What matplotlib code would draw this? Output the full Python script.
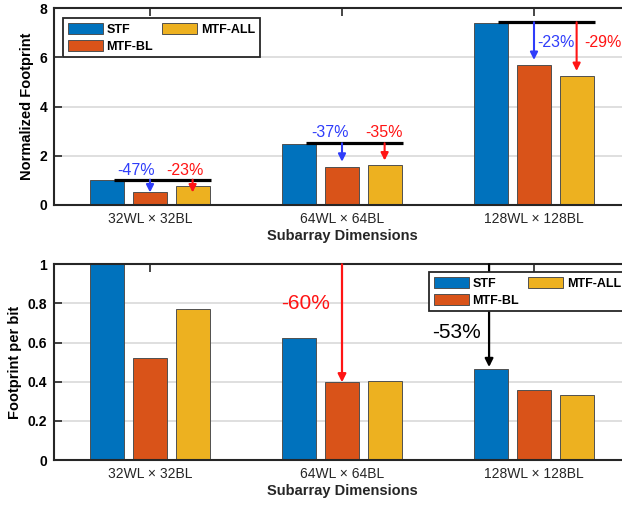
import numpy as np
import matplotlib
matplotlib.use("Agg")
import matplotlib.pyplot as plt

plt.rcParams['font.family'] = ['Liberation Sans', 'DejaVu Sans']

# ---- data ----
categories = ['32WL \u00d7 32BL', '64WL \u00d7 64BL', '128WL \u00d7 128BL']
series = ['STF', 'MTF-BL', 'MTF-ALL']

footprint_stf = [1.00, 2.48, 7.40]
footprint_bl = [0.53, 1.56, 5.70]
footprint_all = [0.77, 1.61, 5.25]

per_bit_stf = [1.00, 0.625, 0.467]
per_bit_bl = [0.523, 0.397, 0.358]
per_bit_all = [0.772, 0.402, 0.330]

# ---- style ----
colors = ['#0072BD', '#D95319', '#EDB120']
blue_note = '#2F3DFA'
red_note = '#FF1414'
spine_col = '#262626'
bar_w = 0.178
offsets = [-0.222, 0.0, 0.222]
x = np.arange(1, len(categories) + 1)

fig = plt.figure(figsize=(6.22, 5.12), dpi=100)
W, H = 622, 512
ax1 = fig.add_axes([54 / W, 1 - 205 / H, 576 / W, 196.7 / H])
ax2 = fig.add_axes([54 / W, 1 - 460 / H, 576 / W, 195.7 / H])


def style_axes(ax, ylim, yticks, yticklabels, ylabel):
    ax.set_axisbelow(True)
    ax.set_xlim(0.5, 3.5)
    ax.set_ylim(*ylim)
    ax.set_yticks(yticks)
    ax.set_yticklabels(yticklabels, fontsize=10, fontweight='bold')
    ax.set_xticks(x)
    ax.set_xticklabels(categories, fontsize=10, color=spine_col)
    ax.tick_params(direction='in', top=True, right=True, length=6, width=1.2,
                   color=spine_col, pad=5)
    ax.yaxis.grid(True, color='#DCDCDC', lw=1.3)
    for s in ax.spines.values():
        s.set_linewidth(1.5)
        s.set_color(spine_col)
    ax.set_ylabel(ylabel, fontsize=10.5, fontweight='bold', labelpad=4)
    ax.set_xlabel('Subarray Dimensions', fontsize=10.5, fontweight='bold',
                  labelpad=2, color=spine_col)


def draw_bars(ax, groups):
    handles = []
    for vals, off, col, name in zip(groups, offsets, colors, series):
        h = ax.bar(x + off, vals, width=bar_w, color=col, edgecolor='#505050',
                   linewidth=0.7, label=name, zorder=2)
        handles.append(h)
    return handles


def add_legend(ax, anchor):
    leg = ax.legend(ncol=2, loc='upper left', bbox_to_anchor=anchor,
                    prop={'weight': 'bold', 'size': 9}, frameon=True,
                    fancybox=False, framealpha=1, edgecolor=spine_col,
                    handlelength=2.8, handleheight=1.04, handletextpad=0.3,
                    columnspacing=0.72, labelspacing=0.32, borderpad=0.38,
                    borderaxespad=0)
    leg.get_frame().set_linewidth(1.3)
    leg.set_zorder(10)
    return leg


def arrow(ax, xx, y_from, y_to, color, scale=11, lw=1.5):
    ax.annotate('', xy=(xx, y_to), xytext=(xx, y_from),
                arrowprops=dict(arrowstyle='-|>', color=color, lw=lw,
                                mutation_scale=scale, shrinkA=0, shrinkB=0),
                zorder=6)


# ---- top panel: normalized footprint ----
style_axes(ax1, (0, 8), [0, 2, 4, 6, 8], ['0', '2', '4', '6', '8'],
           'Normalized Footprint')
draw_bars(ax1, [footprint_stf, footprint_bl, footprint_all])
add_legend(ax1, (0.0156, 0.951))

# reduction labels: (x, y, ha) for MTF-BL then MTF-ALL in each group
top_label_pos = [
    [(0.927, 1.42, 'center'), (1.180, 1.42, 'center')],
    [(1.9375, 2.94, 'center'), (2.219, 2.94, 'center')],
    [(3.016, 6.61, 'left'), (3.260, 6.61, 'left')],
]
for i in range(len(categories)):
    base = footprint_stf[i]
    line_y = base + 0.03
    ax1.plot([x[i] - 0.19, x[i] + 0.32], [line_y, line_y], color='black',
             lw=2.3, solid_capstyle='butt', zorder=5)
    for j, (vals, col) in enumerate([(footprint_bl, blue_note),
                                     (footprint_all, red_note)]):
        xx = x[i] + offsets[j + 1]
        tip = min(vals[i] + 0.2, line_y - 0.52)
        arrow(ax1, xx, line_y, tip, col)
        pct = round(100 * (vals[i] / base - 1))
        lx, ly, ha = top_label_pos[i][j]
        ax1.text(lx, ly, f'{pct}%', color=col, fontsize=11.5, ha=ha,
                 va='center', zorder=7)

# ---- bottom panel: footprint per bit ----
style_axes(ax2, (0, 1), [0, 0.2, 0.4, 0.6, 0.8, 1.0],
           ['0', '0.2', '0.4', '0.6', '0.8', '1'], 'Footprint per bit')
draw_bars(ax2, [per_bit_stf, per_bit_bl, per_bit_all])

ref = per_bit_stf[0]
# MTF-BL at 64x64 versus STF at 32x32
pct_bl = round(100 * (per_bit_bl[1] / ref - 1))
arrow(ax2, x[1] + offsets[1], 1.0, per_bit_bl[1], red_note, scale=12, lw=1.6)
ax2.text(1.81, 0.80, f'{pct_bl}%', color=red_note, fontsize=15,
         ha='center', va='center', zorder=7)
# STF at 128x128 versus STF at 32x32
pct_stf = round(100 * (per_bit_stf[2] / ref - 1))
arrow(ax2, 2.766, 1.0, per_bit_stf[2] + 0.008, 'black', scale=12, lw=1.6)
ax2.text(2.594, 0.649, f'{pct_stf}%', color='black', fontsize=15,
         ha='center', va='center', zorder=7)
add_legend(ax2, (0.651, 0.961))

fig.savefig('out.png', dpi=100)
